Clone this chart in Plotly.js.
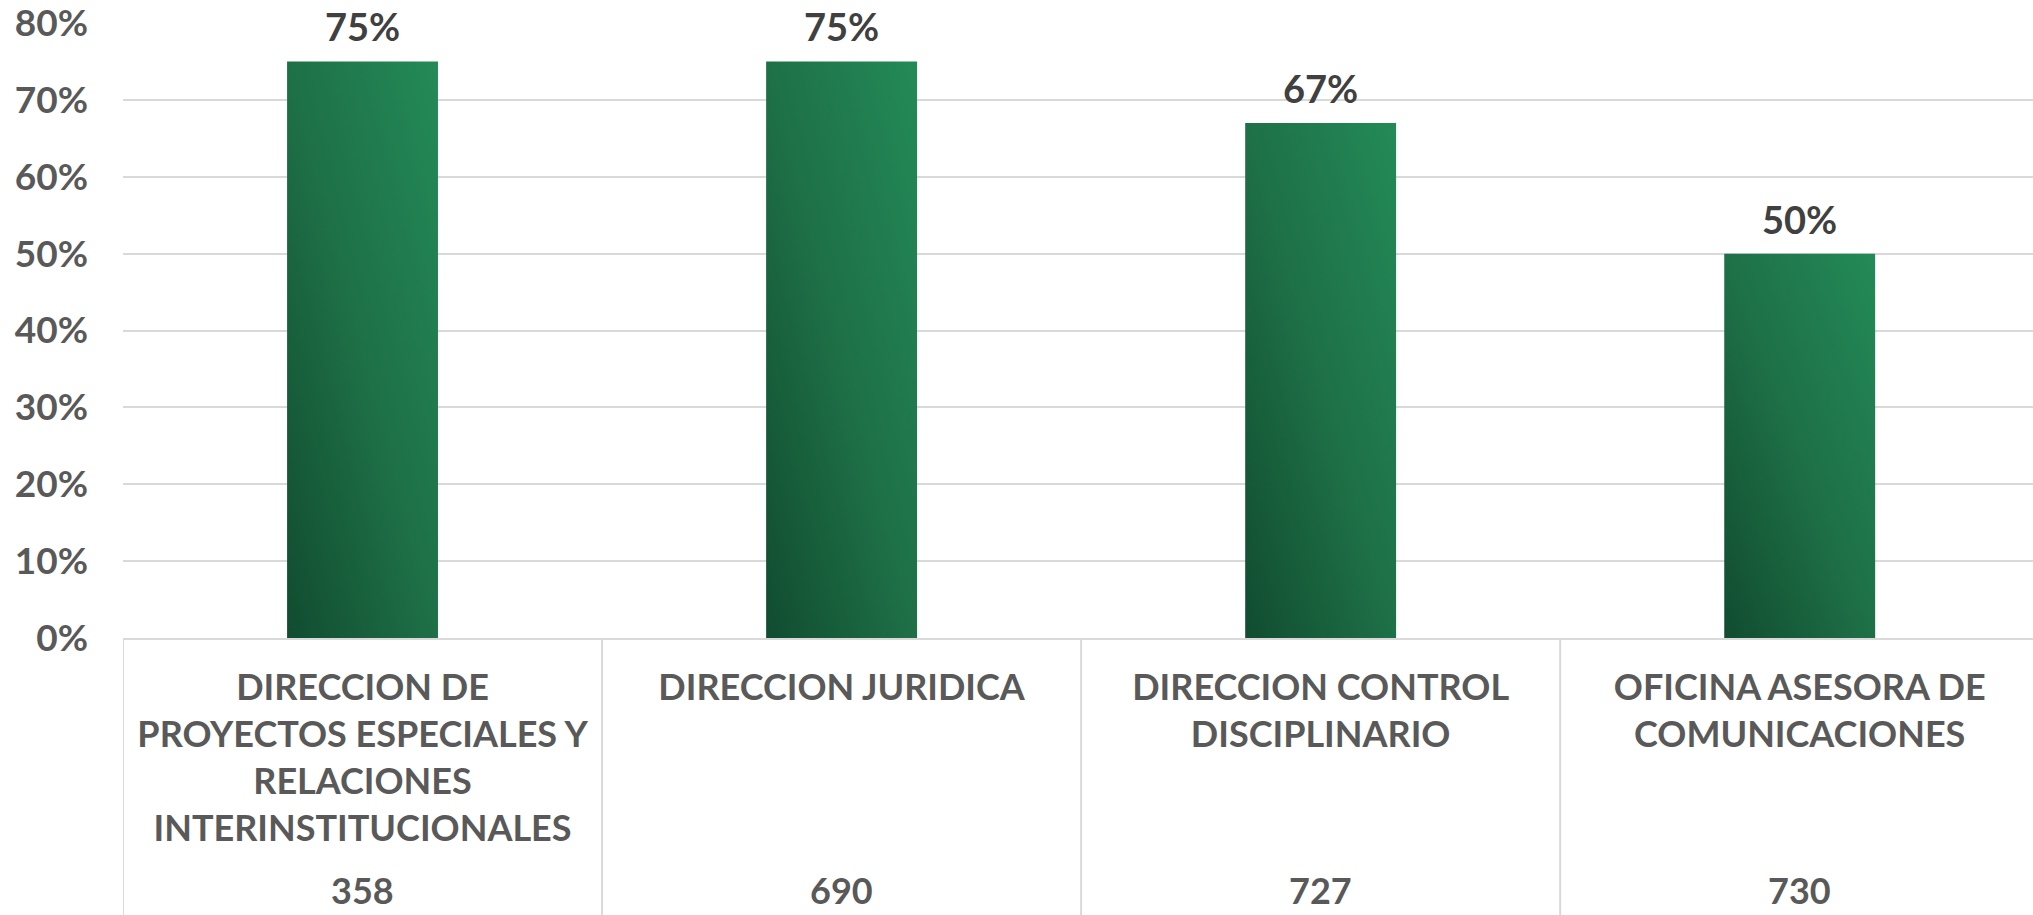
<!DOCTYPE html>
<html>
<head>
<meta charset="utf-8">
<script src="https://cdn.plot.ly/plotly-3.0.1.min.js"></script>
<style>
html,body{margin:0;padding:0;background:#fff;}
#chart{width:2033px;height:915px;}
</style>
</head>
<body>
<div id="chart"></div>
<script>
// ---- data ----
const categories = [
  "DIRECCION DE PROYECTOS ESPECIALES Y RELACIONES INTERINSTITUCIONALES",
  "DIRECCION JURIDICA",
  "DIRECCION CONTROL DISCIPLINARIO",
  "OFICINA ASESORA DE COMUNICACIONES"
];
const tickLabels = [
  "DIRECCION DE<br>PROYECTOS ESPECIALES Y<br>RELACIONES<br>INTERINSTITUCIONALES",
  "DIRECCION JURIDICA",
  "DIRECCION CONTROL<br>DISCIPLINARIO",
  "OFICINA ASESORA DE<br>COMUNICACIONES"
];
const codes = ["358", "690", "727", "730"];
const values = [0.75, 0.75, 0.67, 0.50];
const yTicks = [0, 0.1, 0.2, 0.3, 0.4, 0.5, 0.6, 0.7, 0.8];

const FONT = "Lato, 'Open Sans', sans-serif";
const GRAY = "#595959";
const DARK = "#404040";
const LINE = "#d9d9d9";

const trace = {
  type: "bar",
  x: categories,
  y: values,
  marker: {color: "#1e7047", line: {width: 0}},
  width: 0.315,
  hoverinfo: "skip"
};

const annotations = [];
categories.forEach((c, i) => {
  annotations.push({
    x: c, y: values[i], xref: "x", yref: "y",
    text: Math.round(values[i] * 100) + "%",
    showarrow: false, yanchor: "bottom", yshift: 10,
    font: {family: FONT, size: 38, color: DARK, weight: 700}
  });
  annotations.push({
    x: c, y: -0.449, xref: "x", yref: "paper",
    text: codes[i],
    showarrow: false, yanchor: "bottom",
    font: {family: FONT, size: 36, color: GRAY, weight: 700}
  });
});

const shapes = [];
for (let k = 0; k <= categories.length - 1; k++) {
  shapes.push({
    type: "line", xref: "x", yref: "paper",
    x0: k - 0.5, x1: k - 0.5, y0: 0, y1: -0.6,
    line: {color: LINE, width: 2}
  });
}

const layout = {
  width: 2033, height: 915,
  margin: {l: 123, r: 0, t: 23, b: 277, pad: 0},
  paper_bgcolor: "#fff", plot_bgcolor: "#fff",
  showlegend: false,
  xaxis: {
    type: "category",
    range: [-0.5, 3.487],
    tickvals: categories,
    ticktext: tickLabels,
    ticks: "",
    ticklabelstandoff: 17,
    tickfont: {family: FONT, size: 36, color: GRAY, weight: 700},
    showline: true, linecolor: LINE, linewidth: 2,
    showgrid: false, zeroline: false, automargin: false,
    fixedrange: true
  },
  yaxis: {
    range: [0, 0.8],
    tickvals: yTicks,
    tickformat: ".0%",
    ticks: "",
    ticklabelstandoff: 34,
    ticklabeloverflow: "allow",
    tickfont: {family: FONT, size: 37, color: GRAY, weight: 700},
    showgrid: true, gridcolor: LINE, gridwidth: 2,
    zeroline: false, showline: false, automargin: false,
    fixedrange: true
  },
  shapes: shapes,
  annotations: annotations,
  bargap: 0.685
};

Plotly.newPlot("chart", [trace], layout, {displayModeBar: false, staticPlot: true}).then(gd => {
  const svgNS = "http://www.w3.org/2000/svg";
  const svg = gd.querySelector(".main-svg");
  let defs = svg.querySelector("defs");
  if (!defs) { defs = document.createElementNS(svgNS, "defs"); svg.insertBefore(defs, svg.firstChild); }
  const g = document.createElementNS(svgNS, "linearGradient");
  g.setAttribute("id", "barGrad");
  g.setAttribute("x1", "0"); g.setAttribute("y1", "1");
  g.setAttribute("x2", "1"); g.setAttribute("y2", "0");
  [["0", "#114c30"], ["0.5", "#1e7047"], ["1", "#238a57"]].forEach(([o, c]) => {
    const s = document.createElementNS(svgNS, "stop");
    s.setAttribute("offset", o); s.setAttribute("stop-color", c);
    g.appendChild(s);
  });
  defs.appendChild(g);
  gd.querySelectorAll(".trace.bars .point path").forEach(p => {
    p.style.fill = "url(#barGrad)";
  });
});
</script>
</body>
</html>
